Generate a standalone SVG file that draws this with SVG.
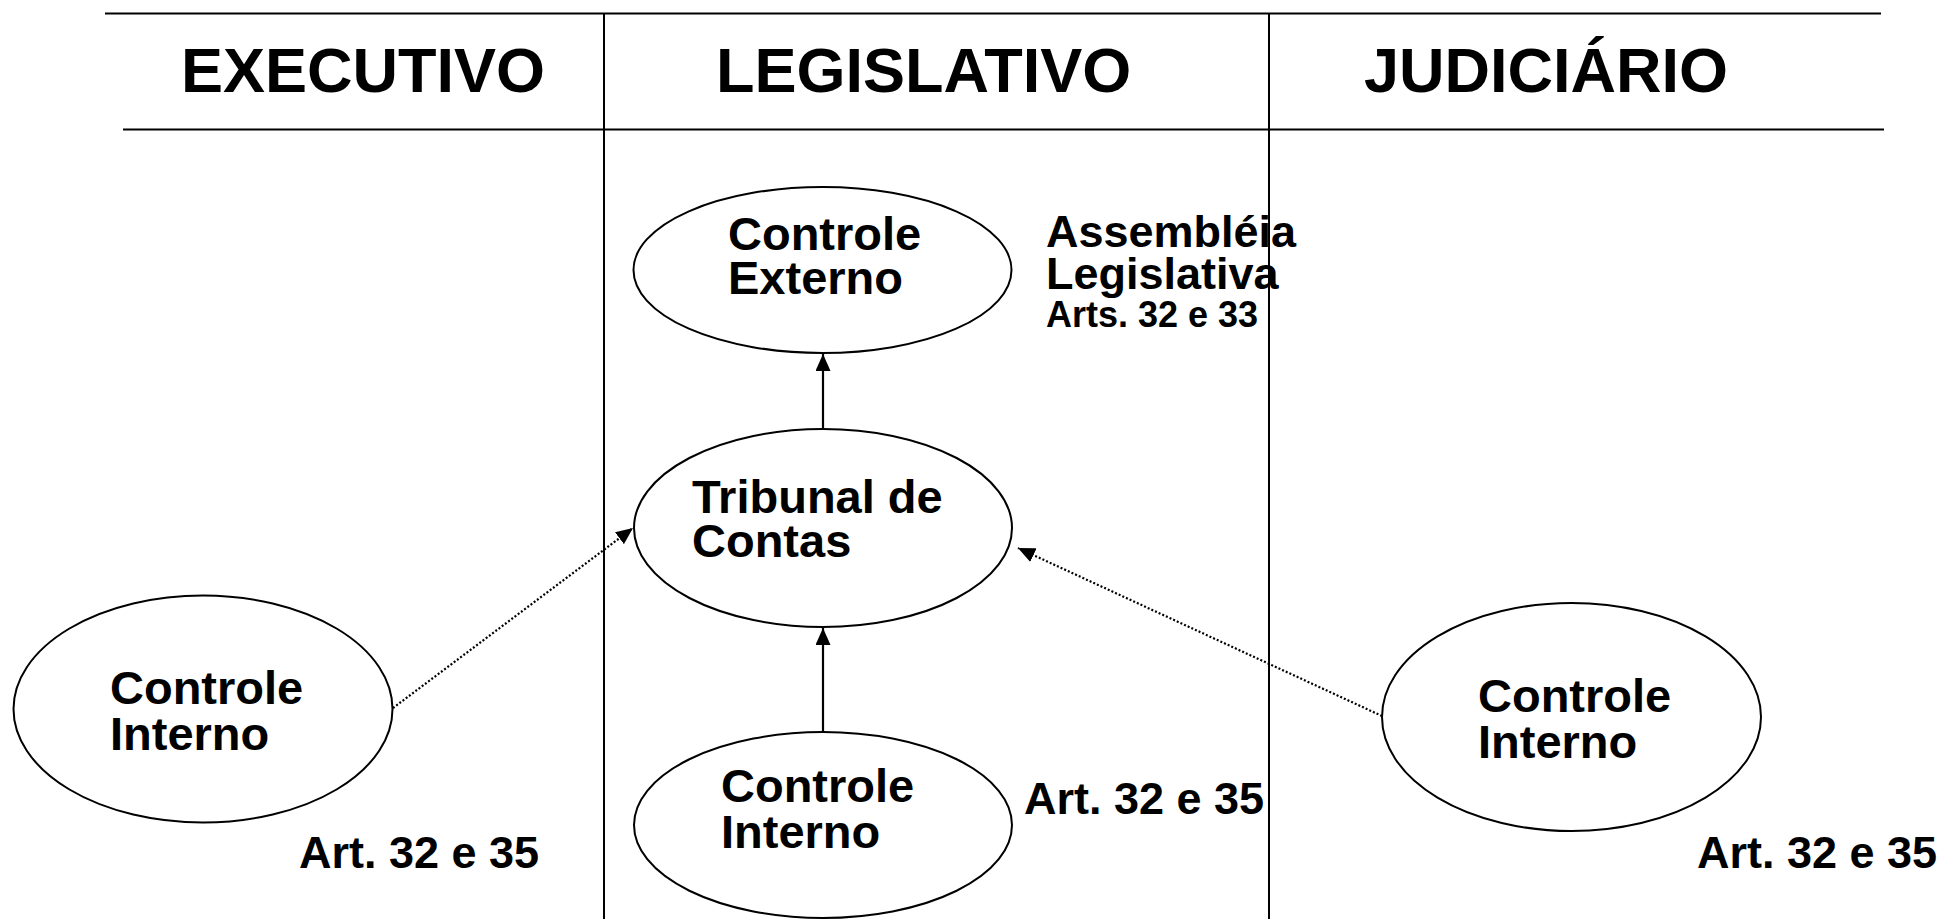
<svg xmlns="http://www.w3.org/2000/svg" width="1942" height="919" viewBox="0 0 1942 919">
<style>
.t{font-family:"Liberation Sans",Arial,sans-serif;font-weight:bold;fill:#000}
.h{font-size:63px}
.n{font-size:47px}
.a{font-size:45px}
.s{font-size:36px}
.node{fill:#fff;stroke:#000;stroke-width:2}
.rule{stroke:#000;stroke-width:2;fill:none}
.solid{stroke:#000;stroke-width:2.2;fill:none}
.dot{stroke:#000;stroke-width:2.2;fill:none;stroke-dasharray:2 2}
</style>
<defs>
<marker id="arr" markerUnits="userSpaceOnUse" markerWidth="17" markerHeight="15" refX="17" refY="7.5" orient="auto">
<path d="M0,0 L17,7.5 L0,15 z" fill="#000"/>
</marker>
</defs>
<rect width="1942" height="919" fill="#fff"/>
<g id="frame">
<line class="rule" x1="105" y1="13.5" x2="1881" y2="13.5" stroke-width="2.5"/>
<line class="rule" x1="123" y1="129.5" x2="1884" y2="129.5"/>
<line class="rule" x1="604" y1="13" x2="604" y2="919" stroke-width="1.8"/>
<line class="rule" x1="1269" y1="13" x2="1269" y2="919" stroke-width="1.8"/>
<text class="t h" x="181" y="92">EXECUTIVO</text>
<text class="t h" x="716" y="92">LEGISLATIVO</text>
<text class="t h" x="1364" y="92">JUDICIÁRIO</text>
</g>
<g id="connectors">
<line class="solid" x1="823" y1="429" x2="823" y2="354" marker-end="url(#arr)"/>
<line class="solid" x1="823" y1="732" x2="823" y2="628" marker-end="url(#arr)"/>
<line class="dot" x1="393" y1="708" x2="633" y2="528" marker-end="url(#arr)"/>
<line class="dot" x1="1382" y1="716" x2="1018" y2="548" marker-end="url(#arr)"/>
</g>
<g id="controle-externo">
<ellipse class="node" cx="822.5" cy="270" rx="189" ry="83"/>
<text class="t n" x="728" y="250">Controle<tspan x="728" dy="44">Externo</tspan></text>
</g>
<g id="assembleia-label">
<text class="t a" x="1046" y="247">Assembléia<tspan x="1046" dy="42">Legislativa</tspan><tspan class="s" x="1046" dy="38">Arts. 32 e 33</tspan></text>
</g>
<g id="tribunal">
<ellipse class="node" cx="823" cy="528" rx="189" ry="99"/>
<text class="t n" x="692" y="513">Tribunal de<tspan x="692" dy="44">Contas</tspan></text>
</g>
<g id="ci-legislativo">
<ellipse class="node" cx="823" cy="825" rx="189" ry="93"/>
<text class="t n" x="721" y="802">Controle<tspan x="721" dy="46">Interno</tspan></text>
<text class="t a" x="1024" y="814">Art. 32 e 35</text>
</g>
<g id="ci-executivo">
<ellipse class="node" cx="203" cy="709" rx="189.5" ry="113.5"/>
<text class="t n" x="110" y="704">Controle<tspan x="110" dy="46">Interno</tspan></text>
<text class="t a" x="299" y="868">Art. 32 e 35</text>
</g>
<g id="ci-judiciario">
<ellipse class="node" cx="1571.5" cy="717" rx="189.5" ry="114"/>
<text class="t n" x="1478" y="712">Controle<tspan x="1478" dy="46">Interno</tspan></text>
<text class="t a" x="1697" y="868">Art. 32 e 35</text>
</g>
</svg>
